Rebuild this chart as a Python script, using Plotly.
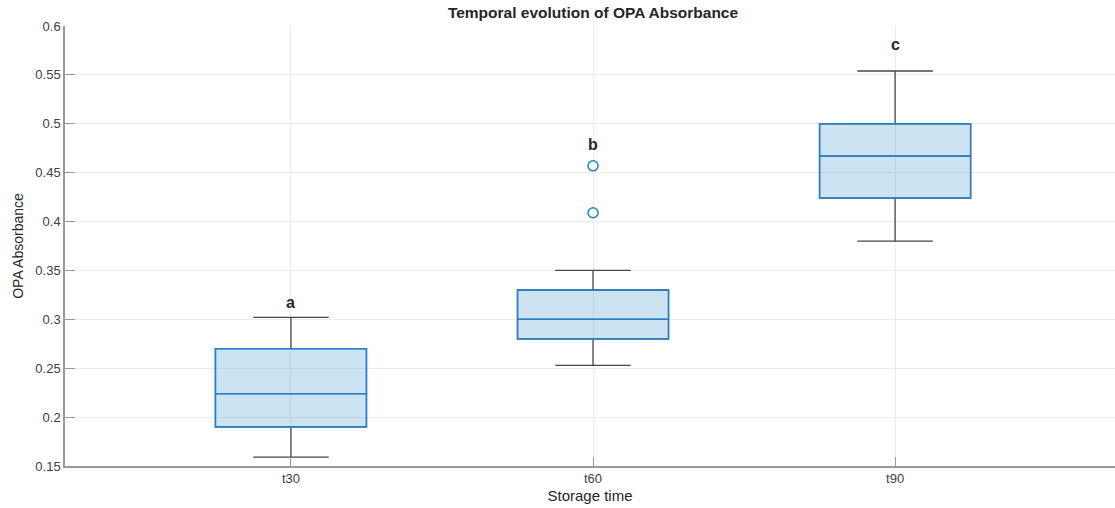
import plotly.graph_objects as go

# Storage time groups and their box statistics (OPA absorbance)
groups = ["t30", "t60", "t90"]
q1 = [0.190, 0.280, 0.424]
median = [0.224, 0.300, 0.467]
q3 = [0.270, 0.330, 0.500]
lower_whisker = [0.159, 0.253, 0.380]
upper_whisker = [0.302, 0.350, 0.554]

# Outliers beyond the whiskers
outlier_group = ["t60", "t60"]
outlier_value = [0.457, 0.409]

# Significance letters per group
letters = ["a", "b", "c"]

BLUE = "#2481CE"
DARK = "#474747"
FONT = "Liberation Sans, Arial, sans-serif"

fig = go.Figure()

# Whiskers with caps (dark), box body hidden underneath the blue box
fig.add_trace(go.Box(
    x=groups, q1=q1, median=median, q3=q3,
    lowerfence=lower_whisker, upperfence=upper_whisker,
    width=0.5, whiskerwidth=0.5,
    line=dict(color=DARK, width=1.3),
    fillcolor="rgba(0,0,0,0)",
    boxpoints=False, hoverinfo="skip", showlegend=False,
))

# Blue interquartile box with median
fig.add_trace(go.Box(
    x=groups, q1=q1, median=median, q3=q3,
    lowerfence=q1, upperfence=q3,
    width=0.5, whiskerwidth=0,
    line=dict(color=BLUE, width=1.5),
    fillcolor="rgba(0,114,189,0.2)",
    boxpoints=False, showlegend=False,
))

# Outlier markers
fig.add_trace(go.Scatter(
    x=outlier_group, y=outlier_value, mode="markers",
    marker=dict(symbol="circle-open", size=10, color=BLUE, line=dict(width=1.5)),
    showlegend=False,
))

# Letters above each group's highest point
letter_shift = [15, 21, 26]
for g, lt, uw, sh in zip(groups, letters, upper_whisker, letter_shift):
    top = max([uw] + [v for og, v in zip(outlier_group, outlier_value) if og == g])
    fig.add_annotation(
        x=g, y=top, text=f"<b>{lt}</b>", showarrow=False,
        yshift=sh, font=dict(family=FONT, size=16, color="#262626"),
        yanchor="middle",
    )

fig.update_layout(
    width=1115, height=508,
    margin=dict(l=65, r=0, t=26, b=42),
    paper_bgcolor="white", plot_bgcolor="white",
    boxmode="overlay",
    font=dict(family=FONT, size=13, color="#404040"),
    title=dict(
        text="<b>Temporal evolution of OPA Absorbance</b>",
        x=593 / 1115, xanchor="center", y=0.975, yanchor="middle",
        font=dict(family=FONT, size=15.5, color="#262626"),
    ),
    xaxis=dict(
        type="category", categoryorder="array", categoryarray=groups,
        range=[-0.748, 2.728],
        title=dict(text="Storage time", font=dict(size=15, color="#262626"), standoff=5),
        showgrid=True, gridcolor="#EBEBEB", gridwidth=1,
        showline=True, linecolor="#999999", linewidth=1.5,
        ticks="inside", ticklen=9, tickcolor="#999999",
        tickfont=dict(size=13, color="#404040"),
        zeroline=False,
    ),
    yaxis=dict(
        range=[0.15, 0.6], dtick=0.05, tick0=0.15,
        title=dict(text="OPA Absorbance", font=dict(size=14, color="#262626"), standoff=8),
        showgrid=True, gridcolor="#EBEBEB", gridwidth=1,
        showline=True, linecolor="#999999", linewidth=1.5,
        ticks="inside", ticklen=10, tickcolor="#999999",
        tickfont=dict(size=13, color="#404040"),
        zeroline=False,
    ),
)

fig.write_html("out.html")
